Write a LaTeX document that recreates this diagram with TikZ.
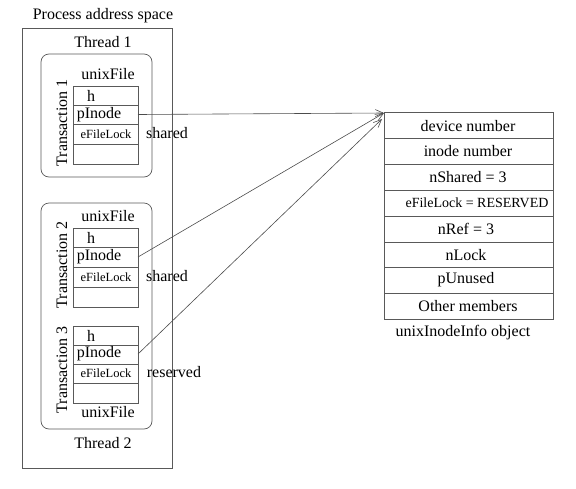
\documentclass[tikz,border=0pt]{standalone}
\usepackage{fontspec}
\setmainfont{Liberation Serif}
\usetikzlibrary{arrows.meta}
\begin{document}
\begin{tikzpicture}[x=1pt,y=-1pt,
  ln/.style={draw=black!65, line width=0.7pt},
  lbl/.style={font=\fontsize{16}{18}\selectfont, inner sep=0pt},
  sm/.style={font=\fontsize{12.5}{14}\selectfont, inner sep=0pt},
  smr/.style={font=\fontsize{14}{16}\selectfont, inner sep=0pt},
  arr/.style={draw=black!70, line width=0.6pt, -{Straight Barb[length=8pt,width=7pt]}}]
\useasboundingbox (0,0) rectangle (576,488);
% outer
\node[lbl] (pas) at (103,16) {Process address space};
\draw[ln] (22,28) rectangle (172,468);
\node[lbl] (t1) at (103,42) {Thread 1};
\draw[ln, rounded corners=8pt] (41,54) rectangle (152,177);
\node[lbl] (t2) at (103,443) {Thread 2};
\draw[ln, rounded corners=8pt] (41,203) rectangle (152,429);
% transaction 1
\node[lbl] (uf1) at (108,74) {unixFile};
\node[lbl, rotate=90] (tr1) at (62,123) {Transaction 1};
\draw[ln] (73,86) rectangle (138,164);
\draw[ln] (73,105) -- (138,105) (73,124) -- (138,124) (73,144) -- (138,144);
\node[lbl] (h1) at (91,96) {h};
\node[lbl] (p1) at (99,115) {pInode};
\node[sm] (e1) at (106,134) {eFileLock};
\node[lbl] (s1) at (167,133) {shared};
\coordinate (pa1) at (138,114.5);
% transaction 2
\node[lbl] (uf2) at (108,216) {unixFile};
\node[lbl, rotate=90] (tr2) at (62,265) {Transaction 2};
\draw[ln] (73,228) rectangle (138,307);
\draw[ln] (73,247) -- (138,247) (73,267) -- (138,267) (73,287) -- (138,287);
\node[lbl] (h2) at (91,238) {h};
\node[lbl] (p2) at (99,257) {pInode};
\node[sm] (e2) at (106,277) {eFileLock};
\node[lbl] (s2) at (167,276) {shared};
\coordinate (pa2) at (138,257);
% transaction 3
\node[lbl, rotate=90] (tr3) at (62,370) {Transaction 3};
\draw[ln] (73,326) rectangle (138,403);
\draw[ln] (73,345) -- (138,345) (73,364) -- (138,364) (73,383) -- (138,383);
\node[lbl] (h3) at (91,336) {h};
\node[lbl] (p3) at (99,354) {pInode};
\node[sm] (e3) at (106,373) {eFileLock};
\node[lbl] (r3) at (174,372) {reserved};
\node[lbl] (uf3) at (108,412) {unixFile};
\coordinate (pa3) at (138,354);
% right table
\draw[ln] (384,112) rectangle (553,319);
\foreach \yy in {138,164,190,216,242,267,293} \draw[ln] (384,\yy) -- (553,\yy);
\node[lbl] (r1) at (468,126) {device number};
\node[lbl] (r2) at (468,151) {inode number};
\node[lbl] (r3n) at (468,177) {nShared = 3};
\node[smr] (r4) at (477,203) {eFileLock = RESERVED};
\node[lbl] (r5) at (466,229) {nRef = 3};
\node[lbl] (r6) at (466,255) {nLock};
\node[lbl] (r7) at (466,280) {pUnused};
\node[lbl] (r8) at (468,306) {Other members};
\node[lbl] (cap) at (463,333) {unixInodeInfo object};
\coordinate (tg1) at (384,113);
\coordinate (tg2) at (382,119);
% arrows
\draw[arr] (pa1) -- (tg1);
\draw[arr] (pa2) -- (tg1);
\draw[arr] (pa3) -- (tg2);
\end{tikzpicture}
\end{document}
